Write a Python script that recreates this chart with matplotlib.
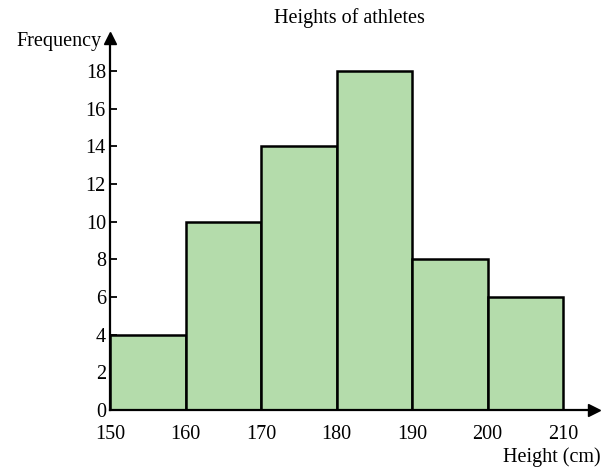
import matplotlib.pyplot as plt
import numpy as np

bin_edges = [150, 160, 170, 180, 190, 200, 210]
frequency = [4, 10, 14, 18, 8, 6]
y_ticks = [0, 2, 4, 6, 8, 10, 12, 14, 16, 18]


def main():
	plt.rcParams['font.family'] = ['Liberation Serif', 'DejaVu Serif']
	fig = plt.figure(figsize=(6.05, 4.68), dpi=100)
	ax = fig.add_axes([0.182, 0.124, 0.800, 0.795])

	lefts = np.array(bin_edges[:-1])
	widths = np.diff(bin_edges)
	ax.bar(lefts, frequency, width=widths, align='edge', color='#b4dcab',
		edgecolor='black', linewidth=1.8, zorder=2)

	ax.set_xlim(150, 214.1)
	ax.set_ylim(0, 19.75)
	ax.set_xticks(bin_edges)
	ax.set_yticks(y_ticks)
	ax.tick_params(axis='y', direction='in', length=5, width=1.3, labelsize=14.5, pad=3)
	ax.tick_params(axis='x', length=0, labelsize=14.5, pad=11)

	for side in ['top', 'right']:
		ax.spines[side].set_visible(False)
	for side in ['left', 'bottom']:
		ax.spines[side].set_linewidth(1.6)
		ax.spines[side].set_zorder(3)

	# arrow heads on the axes
	ax.plot(1, 0, '>', color='black', markersize=8, transform=ax.transAxes, clip_on=False)
	ax.plot(0, 1, '^', color='black', markersize=8, transform=ax.transAxes, clip_on=False)

	fig.text(0.578, 0.962, 'Heights of athletes', ha='center', va='center', fontsize=14.5)
	fig.text(0.168, 0.912, 'Frequency', ha='right', va='center', fontsize=14.5)
	fig.text(0.992, 0.024, 'Height (cm)', ha='right', va='center', fontsize=14.5)

	plt.savefig('out.png', dpi=100)


if __name__ == '__main__':
	main()
